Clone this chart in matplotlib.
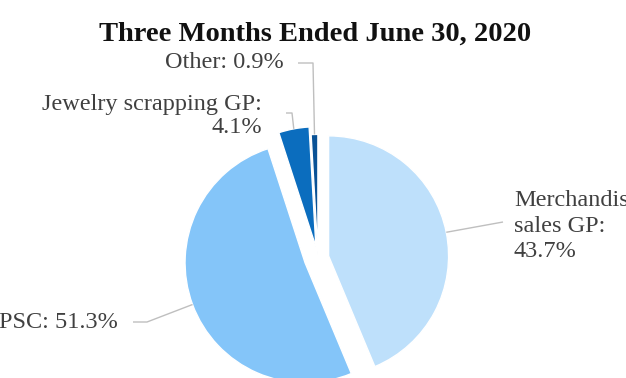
import numpy as np
import matplotlib
matplotlib.use("Agg")
import matplotlib.pyplot as plt

# Gross profit mix, three months ended June 30, 2020
categories = ["Merchandise\nsales GP", "PSC", "Jewelry scrapping GP", "Other"]
shares = [43.7, 51.3, 4.1, 0.9]
colors = ["#BEE0FB", "#84C5F9", "#0B6DBE", "#0A5296"]
explode = [0.09, 0.115, 0.095, 0.03]

W, H = 626, 378
CX, CY, R = 318, 258, 120          # pie centre / radius in pixels


def to_data(px, py):
    """pixel position (from top-left) -> data units (pie radius = 1)"""
    return (px - CX) / R, (CY - py) / R


fig = plt.figure(figsize=(W / 100, H / 100), dpi=100)
ax = fig.add_axes([0, 0, 1, 1])

wedges, _ = ax.pie(shares, colors=colors, explode=explode, startangle=90,
                   counterclock=False, radius=1.0,
                   wedgeprops=dict(edgecolor="white", linewidth=1.0))
ax.set_xlim(-CX / R, (W - CX) / R)
ax.set_ylim(-(H - CY) / R, CY / R)
ax.set_aspect("equal")
ax.axis("off")

serif = ["Liberation Serif", "DejaVu Serif"]
txt_color = "#404040"
line_color = "#BFBFBF"
fs = 17.5


def anchor(w):
    t = np.deg2rad((w.theta1 + w.theta2) / 2)
    cx, cy = w.center
    return cx + w.r * np.cos(t), cy + w.r * np.sin(t)


def leader(w, *pts):
    xs, ys = [anchor(w)[0]], [anchor(w)[1]]
    for p in pts:
        d = to_data(*p)
        xs.append(d[0])
        ys.append(d[1])
    ax.plot(xs, ys, color=line_color, lw=1.0, solid_capstyle="butt", zorder=1)


def label(px, py, s, ha, spacing=1.2):
    x, y = to_data(px, py)
    ax.text(x, y, s, ha=ha, va="center", fontsize=fs, family=serif,
            color=txt_color, linespacing=spacing)


# Merchandise
leader(wedges[0], (503, 222))
label(514, 226, f"{categories[0]}:\n{shares[0]:.1f}%", "left", 1.3)
# PSC
leader(wedges[1], (147, 322), (133, 322))
label(118, 323, f"{categories[1]}: {shares[1]:.1f}%", "right")
# Jewelry scrapping
leader(wedges[2], (292, 113), (286, 113))
label(262, 116, f"{categories[2]}:\n{shares[2]:.1f}%", "right", 1.15)
# Other
leader(wedges[3], (313, 63), (298, 63))
label(284, 63, f"{categories[3]}: {shares[3]:.1f}%", "right")

tx, ty = to_data(315, 34)
ax.text(tx, ty, "Three Months Ended June 30, 2020", ha="center", va="center",
        fontsize=20.5, fontweight="bold", family=serif, color="#111111")

fig.savefig("out.png", dpi=100)
